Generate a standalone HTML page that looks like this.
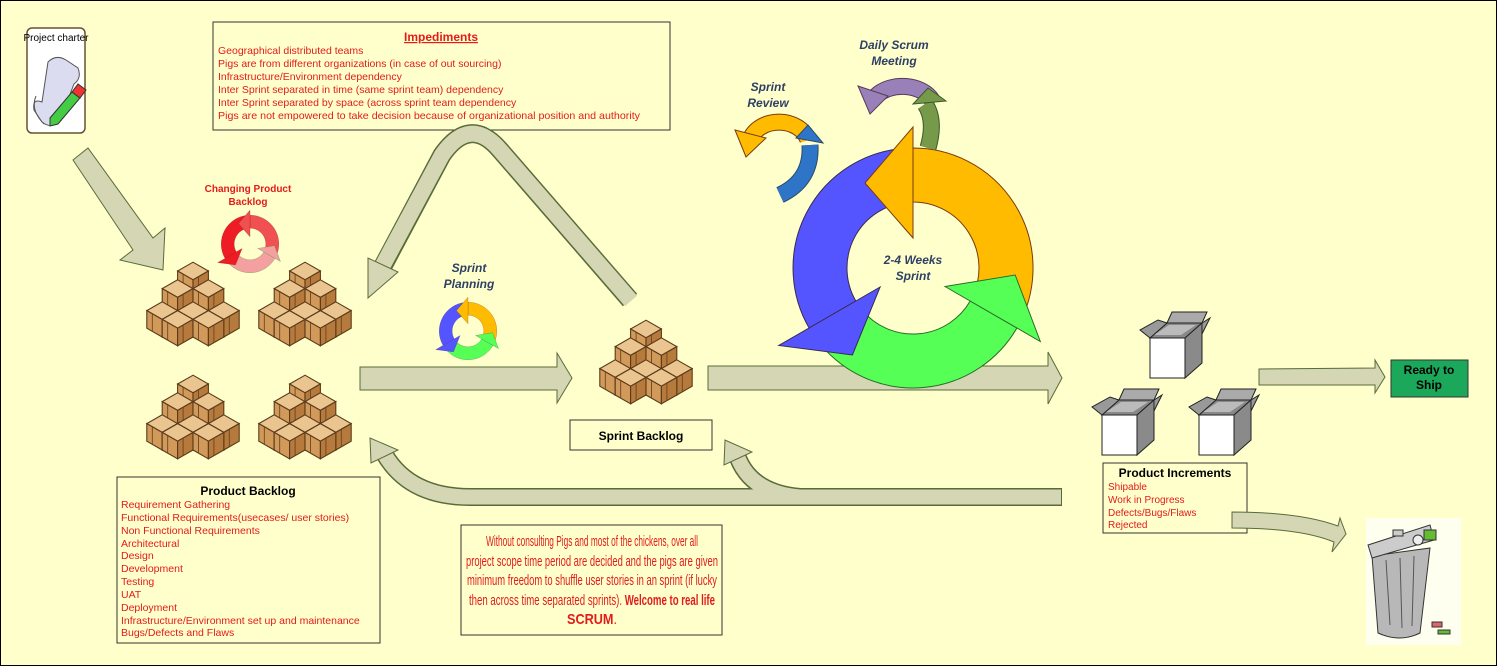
<!DOCTYPE html>
<html><head><meta charset="utf-8"><style>
html,body{margin:0;padding:0;background:#ffffcc;}
svg{display:block;font-family:"Liberation Sans",sans-serif;}
</style></head><body>
<svg width="1497" height="666" viewBox="0 0 1497 666" xmlns="http://www.w3.org/2000/svg">
<defs>
<g id="cube">
<polygon points="0,-8 14,0 0,8 -14,0" fill="#eac58f" stroke="#5a3a1a" stroke-width="1"/>
<polygon points="-14,0 0,8 0,24 -14,16" fill="#d29a5a" stroke="#5a3a1a" stroke-width="1"/>
<polygon points="0,8 14,0 14,16 0,24" fill="#b57a3c" stroke="#5a3a1a" stroke-width="1"/>
<line x1="-9" y1="3" x2="-9" y2="19" stroke="#6a4520" stroke-width="0.8"/>
<line x1="5" y1="5" x2="5" y2="21" stroke="#6a4520" stroke-width="0.8"/>
</g>
<g id="pyr">
<use href="#cube" x="0" y="0"/>
<use href="#cube" x="-14" y="16"/><use href="#cube" x="14" y="16"/>
<use href="#cube" x="-28" y="36"/><use href="#cube" x="0" y="36"/><use href="#cube" x="28" y="36"/>
<use href="#cube" x="-14" y="44"/><use href="#cube" x="14" y="44"/>
</g>
<g id="obox">
<polygon points="0,0 35,0 52,-15 17,-15" fill="#888" stroke="#222"/>
<polygon points="4,-3 31,-3 46,-13 19,-13" fill="#bbb" stroke="none"/>
<polygon points="0,0 -10,-8 8,-18 17,-15" fill="#999" stroke="#222"/>
<polygon points="17,-15 22,-26 57,-26 52,-15" fill="#aaa" stroke="#222"/>
<polygon points="52,-15 60,-20 52,-4" fill="#999" stroke="#222"/>
<rect x="0" y="0" width="35" height="40" fill="#fff" stroke="#222"/>
<polygon points="35,0 52,-15 52,25 35,40" fill="#8a8a8a" stroke="#222"/>
</g>
<g id="cyc">
<path d="M913,148 A120,120 0 0 1 1021.8,318.7 L972.8,295.9 A66,66 0 0 0 913,202 Z" fill="#ffbb00" stroke="#7a3a10"/>
<path d="M809.1,328 A120,120 0 0 1 902.5,148.5 L907.2,202.3 A66,66 0 0 0 855.8,301 Z" fill="#5555ff" stroke="#3a2a50"/>
<path d="M1016.9,328 A120,120 0 0 1 821.1,345.1 L862.4,310.4 A66,66 0 0 0 970.2,301 Z" fill="#55ff55" stroke="#2a6a2a"/>
<polygon points="913,238 913,127 865,183" fill="#ffbb00" stroke="#7a3a10"/>
<polygon points="880.1,287 778.8,345.5 852.4,355" fill="#5555ff" stroke="#3a2a50"/>
<polygon points="945,286.5 1040.3,341.5 1015.2,275" fill="#55ff55" stroke="#2a6a2a"/>
</g>
<g id="cycr">
<path d="M913,148 A120,120 0 0 1 1021.8,318.7 L972.8,295.9 A66,66 0 0 0 913,202 Z" fill="#f05050" stroke="#7a1010"/>
<path d="M809.1,328 A120,120 0 0 1 902.5,148.5 L907.2,202.3 A66,66 0 0 0 855.8,301 Z" fill="#ee1c24" stroke="#7a1010"/>
<path d="M1016.9,328 A120,120 0 0 1 821.1,345.1 L862.4,310.4 A66,66 0 0 0 970.2,301 Z" fill="#f4a0a0" stroke="#2a8a2a"/>
<polygon points="913,238 913,127 865,183" fill="#f05050" stroke="#7a1010"/>
<polygon points="880.1,287 778.8,345.5 852.4,355" fill="#ee1c24" stroke="#7a1010"/>
<polygon points="945,286.5 1040.3,341.5 1015.2,275" fill="#f4a0a0" stroke="#2a8a2a"/>
</g>
</defs>
<style>
.lbl{font-weight:bold;font-style:italic;fill:#2e4064;font-size:12px;text-anchor:middle}
.ar{fill:#d4d6b4;stroke:#5a6b3a;stroke-width:1}
</style>
<rect x="0.5" y="0.5" width="1496" height="665" fill="#ffffcc" stroke="#000"/>

<!-- Project charter -->
<rect x="27" y="28" width="58" height="105" rx="5" fill="#fff" stroke="#6b5030" stroke-width="1.5"/>
<text x="56" y="41" font-size="10" text-anchor="middle" fill="#000">Project charter</text>
<path d="M48,62 Q56,54 66,60 L78,68 Q82,78 74,84 L60,120 Q52,130 42,122 L34,110 Q32,98 42,102 Z" fill="#dcdcf0" stroke="#555"/>
<path d="M36,96 Q30,110 44,124" fill="none" stroke="#555"/>
<polygon points="50,118 72,92 80,98 58,124 50,126" fill="#44cc44" stroke="#333"/>
<polygon points="72,92 78,84 86,90 80,98" fill="#e33" stroke="#333"/>

<!-- Impediments -->
<rect x="213" y="22" width="457" height="108" fill="#ffffcc" stroke="#333" stroke-width="1"/>
<text x="441" y="41" font-size="12" font-weight="bold" fill="#e31b1b" text-anchor="middle" text-decoration="underline">Impediments</text>
<g font-size="10.5" fill="#e31b1b">
<text x="218" y="54">Geographical distributed teams</text>
<text x="218" y="67">Pigs are from different organizations (in case of out sourcing)</text>
<text x="218" y="80">Infrastructure/Environment dependency</text>
<text x="218" y="93">Inter Sprint separated in time (same sprint team) dependency</text>
<text x="218" y="106">Inter Sprint separated by space (across sprint team dependency</text>
<text x="218" y="119" textLength="422" lengthAdjust="spacingAndGlyphs">Pigs are not empowered to take decision because of organizational position and authority</text>
</g>

<!-- charter arrow -->
<polygon class="ar" points="73,160 88,148 153,238 165,228 163,270 120,260 133,250"/>

<!-- triangle loop arrow -->
<path d="M630,300 L500,150 Q470,115 442,155 L383,266" fill="none" stroke="#5a6b3a" stroke-width="19"/>
<path d="M631,301 L500,150 Q470,115 442,155 L383,265" fill="none" stroke="#d4d6b4" stroke-width="16"/>
<polygon class="ar" points="368,298 398,272 368,258"/>

<!-- Changing Product Backlog -->
<text x="248" y="192" font-size="10" font-weight="bold" fill="#e31b1b" text-anchor="middle">Changing Product</text>
<text x="248" y="205" font-size="10" font-weight="bold" fill="#e31b1b" text-anchor="middle">Backlog</text>
<g transform="translate(250,244) scale(0.24) translate(-913,-268)"><use href="#cycr"/></g>

<!-- pyramids -->
<g transform="translate(193,271) scale(1.1)"><use href="#pyr"/></g>
<g transform="translate(305,271) scale(1.1)"><use href="#pyr"/></g>
<g transform="translate(193,384) scale(1.1)"><use href="#pyr"/></g>
<g transform="translate(305,384) scale(1.1)"><use href="#pyr"/></g>
<g transform="translate(646,329) scale(1.1)"><use href="#pyr"/></g>

<!-- Sprint planning -->
<text class="lbl" x="469" y="272">Sprint</text>
<text class="lbl" x="469" y="288">Planning</text>
<g transform="translate(468,331) scale(0.24) translate(-913,-268)"><use href="#cyc"/></g>

<!-- straight arrows -->
<polygon class="ar" points="360,367 557,367 557,353 572,378 557,403 557,390 360,390"/>
<polygon class="ar" points="708,366 1048,366 1048,352 1062,378 1048,404 1048,390 708,390"/>

<!-- Big cycle -->
<use href="#cyc"/>
<text class="lbl" x="913" y="264">2-4 Weeks</text>
<text class="lbl" x="913" y="280">Sprint</text>

<!-- Sprint Review -->
<text class="lbl" x="768" y="91">Sprint</text>
<text class="lbl" x="768" y="107">Review</text>
<path d="M808,140 A30,24 0 0 0 750,140" fill="none" stroke="#7a3a10" stroke-width="17"/>
<path d="M808,140 A30,24 0 0 0 750,140" fill="none" stroke="#ffbb00" stroke-width="15"/>
<polygon points="735,130 766,138 746,157" fill="#ffbb00" stroke="#7a3a10"/>
<path d="M810,145 Q812,180 780,195" fill="none" stroke="#2a4a6a" stroke-width="17"/>
<path d="M810,145 Q812,180 780,195" fill="none" stroke="#2e75c8" stroke-width="15"/>
<polygon points="796,138 823,143 808,125" fill="#2e75c8" stroke="#2a4a6a"/>

<!-- Daily Scrum -->
<text class="lbl" x="894" y="49">Daily Scrum</text>
<text class="lbl" x="894" y="65">Meeting</text>
<path d="M932,100 A32,22 0 0 0 876,96" fill="none" stroke="#5a3a5a" stroke-width="17"/>
<path d="M932,100 A32,22 0 0 0 876,96" fill="none" stroke="#9a80b8" stroke-width="15"/>
<polygon points="858,86 888,96 870,114" fill="#9a80b8" stroke="#5a3a5a"/>
<path d="M928,148 Q936,120 925,104" fill="none" stroke="#3a5a2a" stroke-width="17"/>
<path d="M928,148 Q936,120 925,104" fill="none" stroke="#77994a" stroke-width="15"/>
<polygon points="913,104 946,101 928,88" fill="#77994a" stroke="#3a5a2a"/>

<!-- Sprint backlog box -->
<rect x="570" y="420" width="142" height="30" fill="#ffffcc" stroke="#333"/>
<text x="641" y="440" font-size="12" font-weight="bold" text-anchor="middle">Sprint Backlog</text>

<!-- bottom return arrow -->
<path d="M1062,497 L470,497 Q410,497 385,455" fill="none" stroke="#5a6b3a" stroke-width="18"/>
<path d="M800,497 Q752,493 738,458" fill="none" stroke="#5a6b3a" stroke-width="18"/>
<path d="M1061,497 L470,497 Q410,497 385,455" fill="none" stroke="#d4d6b4" stroke-width="15"/>
<path d="M800,497 Q752,493 738,458" fill="none" stroke="#d4d6b4" stroke-width="15"/>
<polygon class="ar" points="370,438 371,463 398,450"/>
<polygon class="ar" points="725,440 724,465 752,452"/>

<!-- Product backlog box -->
<rect x="117" y="477" width="263" height="166" fill="#ffffcc" stroke="#333"/>
<text x="248" y="495" font-size="12" font-weight="bold" text-anchor="middle">Product Backlog</text>
<g font-size="10.5" fill="#e31b1b">
<text x="121" y="508">Requirement Gathering</text>
<text x="121" y="521">Functional Requirements(usecases/ user stories)</text>
<text x="121" y="534">Non Functional Requirements</text>
<text x="121" y="547">Architectural</text>
<text x="121" y="559">Design</text>
<text x="121" y="572">Development</text>
<text x="121" y="585">Testing</text>
<text x="121" y="598">UAT</text>
<text x="121" y="611">Deployment</text>
<text x="121" y="624">Infrastructure/Environment set up and maintenance</text>
<text x="121" y="636">Bugs/Defects and Flaws</text>
</g>

<!-- red paragraph -->
<rect x="461" y="525" width="261" height="110" fill="#ffffcc" stroke="#333"/>
<g font-size="15" fill="#e31b1b" text-anchor="middle">
<text x="592" y="546" textLength="212" lengthAdjust="spacingAndGlyphs">Without consulting Pigs and most of the chickens, over all</text>
<text x="592" y="566" textLength="252" lengthAdjust="spacingAndGlyphs">project scope time period are decided and the pigs are given</text>
<text x="592" y="585" textLength="250" lengthAdjust="spacingAndGlyphs">minimum freedom to shuffle user stories in an sprint (if lucky</text>
<text x="592" y="605" textLength="246" lengthAdjust="spacingAndGlyphs">then across time separated sprints). <tspan font-weight="bold">Welcome to real life</tspan></text>
<text x="592" y="624" textLength="50" lengthAdjust="spacingAndGlyphs"><tspan font-weight="bold">SCRUM</tspan>.</text>
</g>

<!-- open boxes -->
<use href="#obox" x="1150" y="338"/>
<use href="#obox" x="1102" y="415"/>
<use href="#obox" x="1199" y="415"/>

<!-- product increments -->
<rect x="1103" y="463" width="144" height="70" fill="#ffffcc" stroke="#333"/>
<text x="1175" y="477" font-size="12" font-weight="bold" text-anchor="middle">Product Increments</text>
<g font-size="10" fill="#e31b1b">
<text x="1108" y="490">Shipable</text>
<text x="1108" y="503">Work in Progress</text>
<text x="1108" y="516">Defects/Bugs/Flaws</text>
<text x="1108" y="528">Rejected</text>
</g>

<!-- ready to ship -->
<polygon class="ar" points="1259,369 1375,368 1375,360 1385,377 1375,393 1375,385 1259,385"/>
<rect x="1391" y="360" width="77" height="37" fill="#1ca85a" stroke="#333"/>
<text x="1429" y="374" font-size="12" font-weight="bold" text-anchor="middle">Ready to</text>
<text x="1429" y="389" font-size="12" font-weight="bold" text-anchor="middle">Ship</text>

<!-- curved to trash -->
<path d="M1232,512 L1232,528 Q1300,528 1334,542 L1332,552 L1346,534 L1340,518 L1338,526 Q1300,512 1232,512 Z" fill="#d4d6b4" stroke="#5a6b3a"/>

<!-- trash can -->
<rect x="1366" y="518" width="95" height="127" fill="#fffff0"/>
<path d="M1372,556 L1378,633 Q1400,643 1420,633 L1430,548 Z" fill="#b8b8b8" stroke="#333"/>
<path d="M1386,560 L1390,625 M1400,558 L1402,628 M1414,556 L1412,626" stroke="#555" fill="none"/>
<polygon points="1368,545 1430,525 1434,540 1372,558" fill="#ccc" stroke="#333"/>
<rect x="1393" y="530" width="10" height="6" fill="#ccc" stroke="#333"/>
<circle cx="1418" cy="540" r="5" fill="#eee" stroke="#333"/>
<rect x="1424" y="530" width="12" height="10" fill="#66bb33" stroke="#333"/>
<rect x="1432" y="622" width="10" height="5" fill="#dd6666" stroke="#333"/>
<rect x="1438" y="630" width="12" height="4" fill="#66bb33" stroke="#333"/>
</svg>
</body></html>
